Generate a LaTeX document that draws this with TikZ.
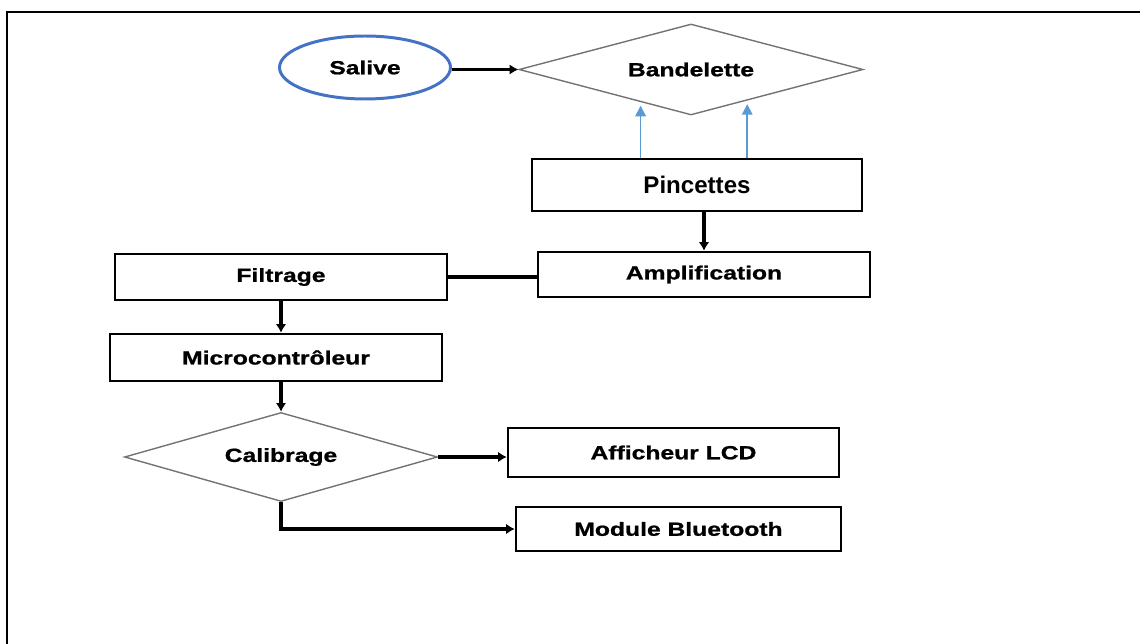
\documentclass[tikz,border=0pt]{standalone}
\usepackage{fontspec}
\usepackage{tikz}
\usetikzlibrary{shapes.geometric,arrows.meta}
\setmainfont{Liberation Sans}
\newfontfamily\widefont[FakeStretch=1.3, BoldFeatures={FakeBold=1}]{Liberation Sans}
\definecolor{salblue}{RGB}{68,114,196}
\definecolor{arrblue}{RGB}{91,155,213}
\definecolor{gray}{rgb}{0.45,0.45,0.45}

\begin{document}
\begin{tikzpicture}[
        box/.style={rectangle, draw, line width=1.3pt, inner sep=0pt,
            font=\widefont\bfseries\fontsize{10.8}{13}\selectfont},
        choice/.style={diamond, draw=gray, line width=0.8pt, aspect=3.6, inner sep=0pt,
            font=\widefont\bfseries\fontsize{10.8}{13}\selectfont},
        flow/.style={line width=2.2pt, -{Latex[length=5pt,width=6pt]}},
        feed/.style={draw=arrblue, line width=0.9pt, -{Triangle[length=6pt,width=6pt]}, shorten >=2pt}]
        \useasboundingbox (0, 0) rectangle (22.8, -12.88);
        \draw[line width=1.2pt] (0.14, -12.88) -- (0.14, -0.24) -- (22.8, -0.24);

        \draw (7.30, -1.35) node(sal)[ellipse, draw=salblue, line width=1.7pt, inner sep=0pt,
            minimum width=3.42cm, minimum height=1.26cm,
            font=\widefont\bfseries\fontsize{10.8}{13}\selectfont]{Salive};
        \draw (13.82, -1.39) node(band)[choice, minimum width=6.88cm, minimum height=1.82cm]{Bandelette};
        \draw (13.94, -3.70) node(pinc)[box, minimum width=6.6cm, minimum height=1.04cm,
            font=\bfseries\fontsize{13.7}{16}\selectfont]{Pincettes};
        \draw (14.08, -5.49) node(ampl)[box, minimum width=6.64cm, minimum height=0.9cm]{Amplification};
        \draw (5.62, -5.54) node(filt)[box, minimum width=6.64cm, minimum height=0.92cm]{Filtrage};
        \draw (5.52, -7.15) node(micro)[box, minimum width=6.64cm, minimum height=0.94cm]{Microcontrôleur};
        \draw (5.62, -9.14) node(calib)[choice, minimum width=6.26cm, minimum height=1.78cm]{Calibrage};
        \draw (13.47, -9.05) node(lcd)[box, minimum width=6.62cm, minimum height=0.98cm]{Afficheur LCD};
        \draw (13.57, -10.58) node(blue)[box, minimum width=6.5cm, minimum height=0.88cm]{Module Bluetooth};

        \draw[flow] (band.west -| sal.east) -- (band.west);
        \draw[feed] (band.213 |- pinc.north) -- (band.213);
        \draw[feed] (band.331 |- pinc.north) -- (band.331);
        \draw[flow] (ampl.north |- pinc.south) -- (ampl.north);
        \draw[line width=2.2pt] (filt.east) -- (filt.east -| ampl.west);
        \draw[flow] (filt.south) -- (filt.south |- micro.north);
        \draw[flow] (calib.north |- micro.south) -- (calib.north);
        \draw[flow] (calib.east) -- (calib.east -| lcd.west);
        \draw[flow] (calib.south) |- (blue.west);
    \end{tikzpicture}
\end{document}
